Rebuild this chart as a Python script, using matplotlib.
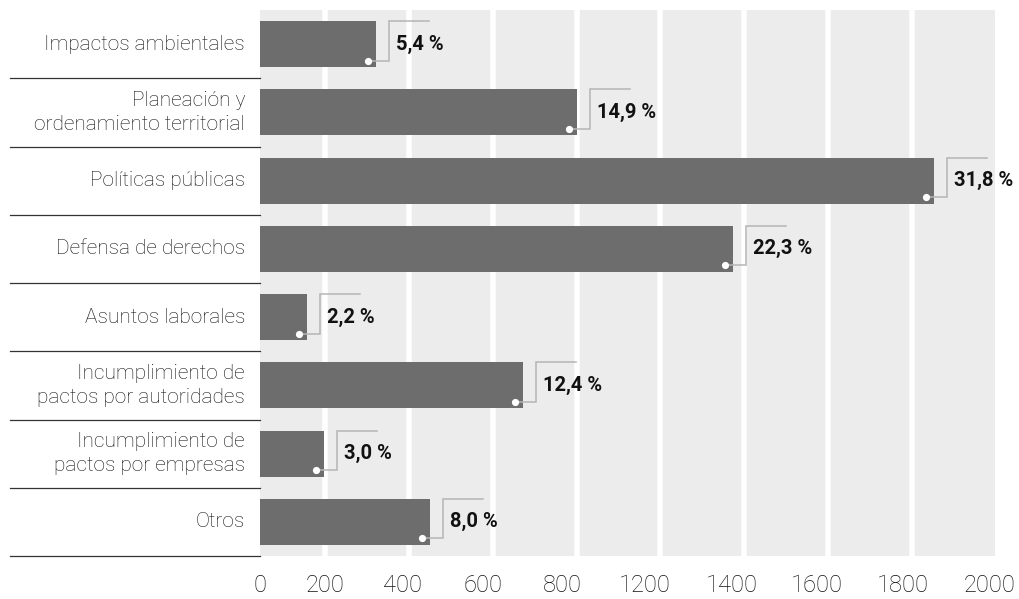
import matplotlib
matplotlib.use("Agg")
import matplotlib.pyplot as plt
from matplotlib.transforms import ScaledTranslation, blended_transform_factory
import numpy as np

categories = [
    "Impactos ambientales",
    "Planeación y\nordenamiento territorial",
    "Políticas públicas",
    "Defensa de derechos",
    "Asuntos laborales",
    "Incumplimiento de\npactos por autoridades",
    "Incumplimiento de\npactos por empresas",
    "Otros",
]
values = [316, 862, 1834, 1287, 128, 716, 175, 463]
pct_labels = ["5,4 %", "14,9 %", "31,8 %", "22,3 %", "2,2 %", "12,4 %", "3,0 %", "8,0 %"]
tick_labels = ["0", "200", "400", "600", "800", "1200", "1400", "1600", "1800", "2000"]

# layout (positions in axis units)
tick_pos = [0, 177, 389, 607, 824, 1048, 1284, 1516, 1750, 1986]
grid_pos = np.linspace(177, 1774, 8)

W, H, DPI = 1019, 599, 100
fig = plt.figure(figsize=(W / DPI, H / DPI), dpi=DPI)
ax = fig.add_axes([260 / W, 1 - 556 / H, (995 - 260) / W, (556 - 10) / H])

BAR = "#6d6d6d"
BG = "#ececec"
TXT = "#111111"
ax.set_facecolor(BG)
ax.set_xlim(0, 2000)
ax.set_ylim(len(categories) - 0.5, -0.5)

for g in grid_pos:
    ax.axvline(g, color="white", lw=4.0, zorder=1)

bh = 0.674
y = np.arange(len(categories))
ax.barh(y, values, height=bh, color=BAR, zorder=2)

for s in ax.spines.values():
    s.set_visible(False)

ax.set_yticks([])
ax.set_xticks(tick_pos)
ax.set_xticklabels(tick_labels, fontsize=17, fontfamily="Roboto", fontweight="light", color=TXT)
ax.tick_params(axis="x", length=0, pad=13)

# category labels
lab_tr = ax.transData + ScaledTranslation(-15 / DPI, 0, fig.dpi_scale_trans)
for i, c in enumerate(categories):
    ax.text(0, i, c, transform=lab_tr, ha="right", va="center", fontsize=15,
            fontfamily="Roboto", fontweight="light", color=TXT, linespacing=1.3)

# separator lines
bt = blended_transform_factory(ax.transAxes, ax.transData)
for i in range(len(categories)):
    ax.plot([(10 - 260) / 735, 0], [i + 0.5, i + 0.5], transform=bt, color="#333333",
            lw=0.9, clip_on=False, zorder=3)

# callouts (pixel offsets from the bar's lower-right corner)
px = 1.0 / DPI
offs = [(-8, 6.5), (13, 6.5), (13, 46), (53, 46)]
inv = ax.transData.inverted()
for i, (v, t) in enumerate(zip(values, pct_labels)):
    yb = i + bh / 2
    disp = ax.transData.transform((v, yb))
    dpts = inv.transform(np.array([[disp[0] + dx, disp[1] + dy] for dx, dy in offs]))
    ax.plot(dpts[:, 0], dpts[:, 1], color="#b5b5b5", lw=1.1, zorder=3, clip_on=False,
            solid_joinstyle="miter")
    ax.plot(dpts[0, 0], dpts[0, 1], "o", color="white", ms=5.2, mec="none", zorder=4)
    ttr = ax.transData + ScaledTranslation(20 * px, 0, fig.dpi_scale_trans)
    ax.text(v, i, t, transform=ttr, ha="left", va="center", fontsize=14.5,
            fontfamily="Roboto", fontweight="bold", color=TXT, zorder=5)

fig.savefig("out.png", dpi=DPI)
